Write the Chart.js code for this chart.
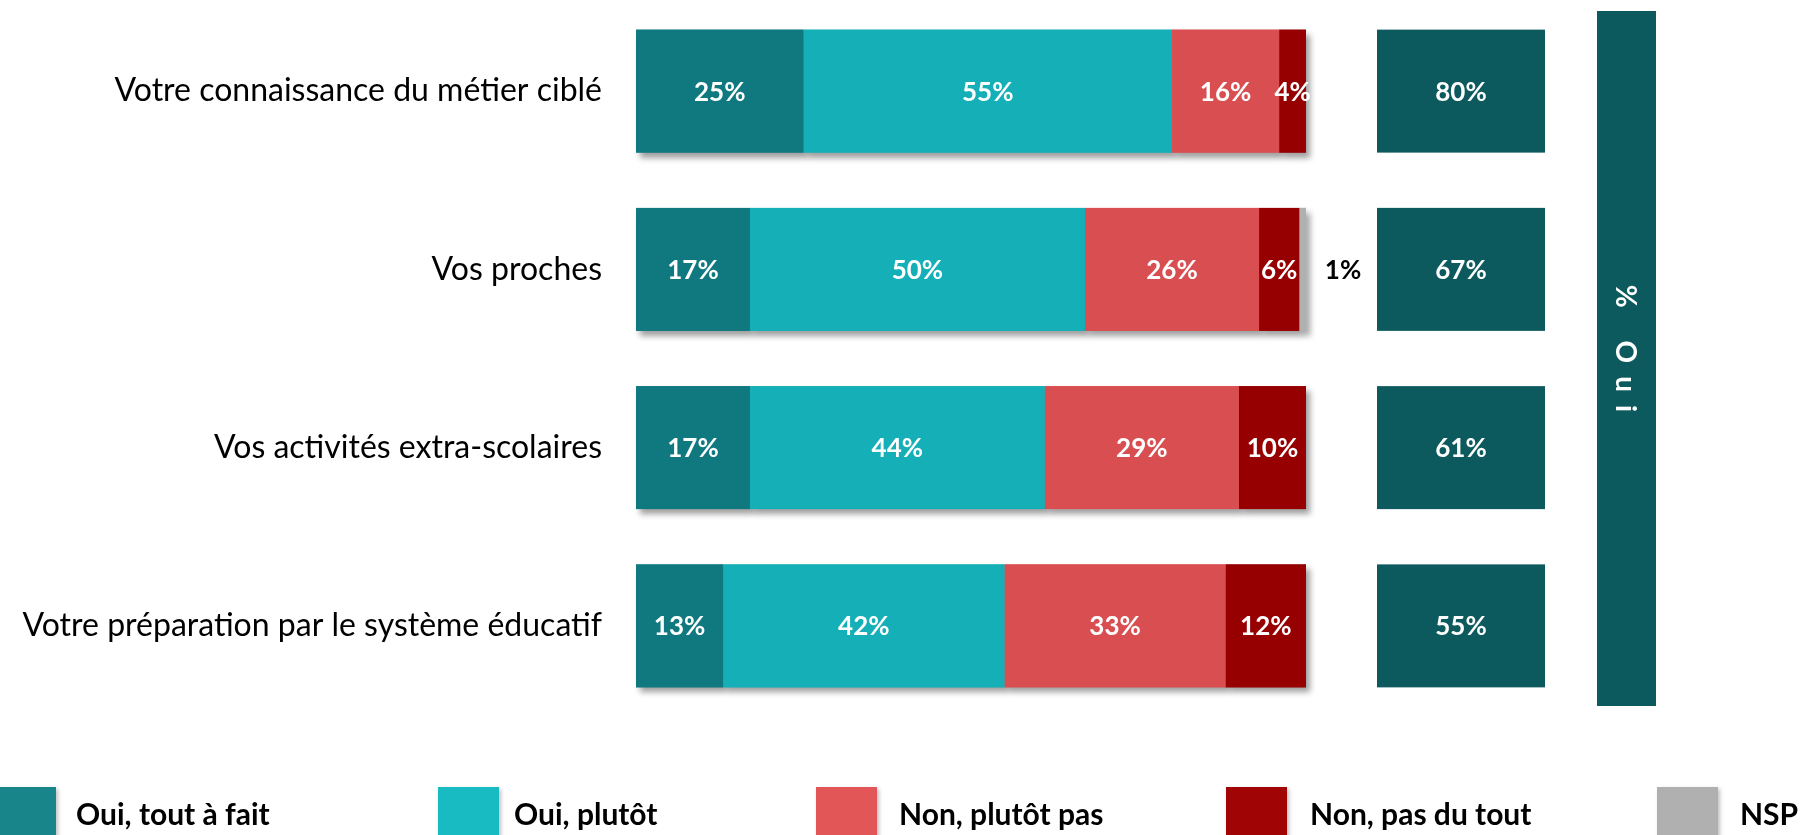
<!DOCTYPE html>
<html><head><meta charset="utf-8">
<script src="https://cdn.jsdelivr.net/npm/chart.js@4/dist/chart.umd.min.js"></script>
<style>
html,body{margin:0;padding:0;background:#fff;overflow:hidden}
#wrap{position:relative;width:1807px;height:835px}
canvas{display:block}
</style></head>
<body><div id="wrap"><canvas id="c" width="1807" height="835"></canvas></div>
<script>
// ---- data ----
const categories = [
  'Votre connaissance du métier ciblé',
  'Vos proches',
  'Vos activités extra-scolaires',
  'Votre préparation par le système éducatif'
];
const seriesNames = ['Oui, tout à fait', 'Oui, plutôt', 'Non, plutôt pas', 'Non, pas du tout', 'NSP'];
const ouiToutAFait = [25, 17, 17, 13];
const ouiPlutot    = [55, 50, 44, 42];
const nonPlutotPas = [16, 26, 29, 33];
const nonPasDuTout = [4, 6, 10, 12];
const nsp          = [0, 1, 0, 0];
const totalOui     = [80, 67, 61, 55];
const totalOuiTitle = '% Oui';

// ---- styles ----
const barColors    = ['#107980', '#14AFB7', '#D94F51', '#960000', '#B0B0B0'];
const legendColors = ['#17858A', '#19BBC3', '#E25657', '#A10404', '#B0B0B0'];
const darkTeal = '#0D5A5E';
const FONT = 'Lato';

const seriesData = [ouiToutAFait, ouiPlutot, nonPlutotPas, nonPasDuTout, nsp];
const datasets = seriesData.map((d, i) => ({
  label: seriesNames[i],
  data: d,
  backgroundColor: barColors[i],
  borderWidth: 0,
  barPercentage: 0.69,
  categoryPercentage: 1.0
}));

const shadowPlugin = {
  id: 'shadows',
  beforeDatasetsDraw(chart) {
    const ctx = chart.ctx;
    ctx.save();
    ctx.shadowColor = 'rgba(0,0,0,0.38)';
    ctx.shadowBlur = 6;
    ctx.shadowOffsetX = 4;
    ctx.shadowOffsetY = 5;
    chart.data.datasets.forEach((ds, i) => {
      const meta = chart.getDatasetMeta(i);
      meta.data.forEach((el, j) => {
        if (!ds.data[j]) return;
        const x0 = Math.min(el.base, el.x), x1 = Math.max(el.base, el.x);
        ctx.fillStyle = ds.backgroundColor;
        ctx.fillRect(x0, el.y - el.height / 2, x1 - x0, el.height);
      });
    });
    ctx.restore();
  }
};

const labelsPlugin = {
  id: 'extras',
  afterDatasetsDraw(chart) {
    const ctx = chart.ctx;
    ctx.save();
    ctx.textAlign = 'center';
    ctx.textBaseline = 'middle';
    ctx.font = `bold 26px ${FONT}`;
    chart.data.datasets.forEach((ds, i) => {
      const meta = chart.getDatasetMeta(i);
      meta.data.forEach((el, j) => {
        const v = ds.data[j];
        if (!v) return;
        if (i < 4) {
          ctx.fillStyle = '#fff';
          ctx.fillText(v + '%', (el.x + el.base) / 2, el.y + 1);
        } else {
          ctx.fillStyle = '#000';
          ctx.fillText(v + '%', el.x + 37, el.y + 1);
        }
      });
    });

    // "% Oui" column boxes
    const ref = chart.getDatasetMeta(0).data;
    const bx0 = 1377, bx1 = 1545;
    ref.forEach((el, j) => {
      const top = el.y - el.height / 2;
      ctx.fillStyle = darkTeal;
      ctx.fillRect(bx0, top, bx1 - bx0, el.height);
      ctx.fillStyle = '#fff';
      ctx.fillText(totalOui[j] + '%', (bx0 + bx1) / 2, el.y + 1);
    });

    // vertical header box
    const vx0 = 1597, vx1 = 1656, vy0 = 11, vy1 = 706;
    ctx.fillStyle = darkTeal;
    ctx.fillRect(vx0, vy0, vx1 - vx0, vy1 - vy0);
    ctx.save();
    ctx.font = `bold 28px ${FONT}`;
    const spacing = 13;
    const chars = Array.from(totalOuiTitle);
    const widths = chars.map(c => ctx.measureText(c).width);
    const total = widths.reduce((a, b) => a + b, 0) + spacing * (chars.length - 1);
    ctx.translate((vx0 + vx1) / 2, (vy0 + vy1) / 2 - 10);
    ctx.rotate(Math.PI / 2);
    ctx.textAlign = 'left';
    ctx.textBaseline = 'middle';
    ctx.fillStyle = '#fff';
    let cx = -total / 2;
    chars.forEach((c, k) => { ctx.fillText(c, cx, 1); cx += widths[k] + spacing; });
    ctx.restore();

    // legend
    const legBoxX  = [-5, 438, 816, 1226, 1657];
    const legTextX = [76, 514, 899, 1310, 1740];
    ctx.font = `bold 30px ${FONT}`;
    ctx.textAlign = 'left';
    seriesNames.forEach((name, i) => {
      ctx.save();
      ctx.shadowColor = 'rgba(0,0,0,0.25)';
      ctx.shadowBlur = 4;
      ctx.shadowOffsetX = 2;
      ctx.shadowOffsetY = 2;
      ctx.fillStyle = legendColors[i];
      ctx.fillRect(legBoxX[i], 787, 61, 60);
      ctx.restore();
      ctx.fillStyle = '#000';
      ctx.fillText(name, legTextX[i], 815);
    });
    ctx.restore();
  }
};

new Chart(document.getElementById('c'), {
  type: 'bar',
  data: { labels: categories, datasets },
  options: {
    indexAxis: 'y',
    responsive: false,
    animation: false,
    events: [],
    layout: { padding: { left: 0, right: 501, top: 2, bottom: 120 } },
    scales: {
      x: { stacked: true, min: 0, max: 100, display: false },
      y: {
        stacked: true,
        grid: { display: false, drawTicks: false },
        border: { display: false },
        ticks: { color: '#000', font: { family: FONT, size: 32 }, padding: 34 },
        afterFit(scale) { scale.width = 636; scale.paddingTop = 0; scale.paddingBottom = 0; }
      }
    },
    plugins: { legend: { display: false }, tooltip: { enabled: false } }
  },
  plugins: [shadowPlugin, labelsPlugin]
});
</script>
</body></html>
